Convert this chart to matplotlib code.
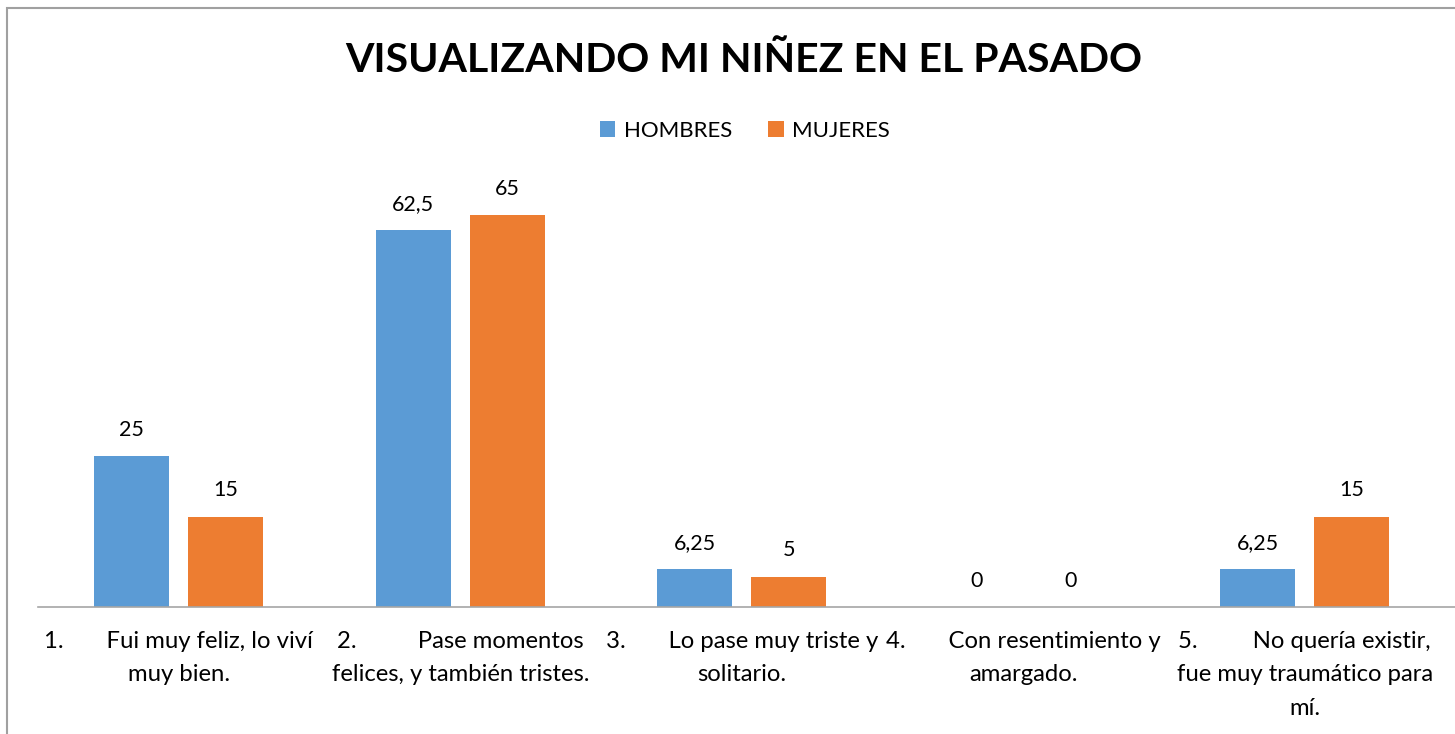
import matplotlib
matplotlib.use("Agg")
import matplotlib.pyplot as plt
from matplotlib.patches import Rectangle
import numpy as np

plt.rcParams['font.family'] = ['Lato', 'DejaVu Sans']

# datos del grafico
categorias = [
    "1." + " " * 7 + "Fui muy feliz, lo viví\nmuy bien.",
    "2." + " " * 10 + "Pase momentos\nfelices, y también tristes.",
    "3." + " " * 7 + "Lo pase muy triste y\nsolitario.",
    "4." + " " * 7 + "Con resentimiento y\namargado.",
    "5." + " " * 9 + "No quería existir,\nfue muy traumático para\nmí.",
]
hombres = [25, 62.5, 6.25, 0, 6.25]
mujeres = [15, 65, 5, 0, 15]
series = ["HOMBRES", "MUJERES"]
colores = ["#5B9BD5", "#ED7D31"]


def fmt(v):
    # formato con coma decimal
    s = ("%g" % v)
    return s.replace(".", ",")


fig = plt.figure(figsize=(14.55, 7.34), dpi=100)
ax = fig.add_axes([38 / 1455, 127 / 734, 1 - 38 / 1455, 422 / 734])

x = np.arange(len(categorias))
ancho = 0.266
off = 0.167
b1 = ax.bar(x - off, hombres, ancho, color=colores[0], label=series[0])
b2 = ax.bar(x + off, mujeres, ancho, color=colores[1], label=series[1])

for barras, vals in [(b1, hombres), (b2, mujeres)]:
    for r, v in zip(barras, vals):
        ax.annotate(fmt(v), (r.get_x() + r.get_width() / 2, v),
                    xytext=(0, 19), textcoords="offset points",
                    ha="center", va="center", fontsize=15.5)

ax.set_xlim(-0.5, 4.5 + 9.5 / 281.5)
ax.set_ylim(0, 70)
ax.set_xticks(x)
ax.set_xticklabels(categorias, fontsize=17.2, linespacing=1.75)
ax.tick_params(axis="x", length=0, pad=17)
ax.set_yticks([])
for s in ["top", "right", "left"]:
    ax.spines[s].set_visible(False)
ax.spines["bottom"].set_color("#a6a6a6")
ax.spines["bottom"].set_linewidth(1.2)

fig.text(0.511, 1 - 60 / 734, "VISUALIZANDO MI NIÑEZ EN EL PASADO",
         ha="center", va="center", fontsize=29.5, fontweight="bold")

fig.legend(loc="center", bbox_to_anchor=(0.512, 1 - 131 / 734), ncol=2,
           frameon=False, fontsize=16, handlelength=0.7, handleheight=0.7,
           handletextpad=0.4, columnspacing=1.6)

# marco del grafico
fig.patches.append(Rectangle((7 / 1455, -0.1), 1.2, 1 - 8 / 734 + 0.1,
                             transform=fig.transFigure, fill=False,
                             edgecolor="#a0a0a0", linewidth=1.5))

plt.savefig("out.png", dpi=100)
